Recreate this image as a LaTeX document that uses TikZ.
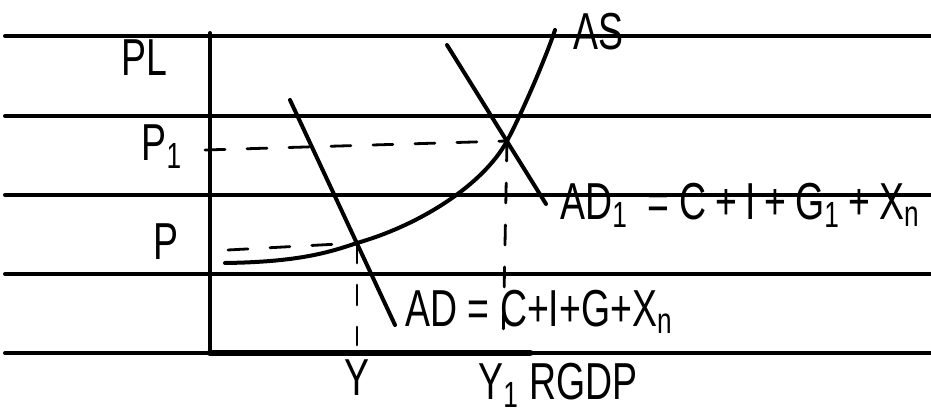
\documentclass[tikz,border=0pt]{standalone}
\usepackage{fontspec}
\setmainfont[FakeStretch=0.72]{Liberation Sans}
\begin{document}
\begin{tikzpicture}[x=0.5pt,y=-0.5pt,line cap=round,line join=round,
  every node/.style={font=\fontsize{26}{26}\selectfont,inner sep=0pt},
  rule/.style={line width=2pt},
  curve/.style={line width=2pt},
  guide/.style={line width=1.4pt,dash pattern=on 10pt off 11pt}]
  % ruled sheet, axes, AS curve and the two AD lines
  \useasboundingbox (0,0) rectangle (931,415);
  \foreach \y in {36,116,195,274,353}
    \draw[rule] (5,\y)--(931,\y);
  \coordinate (O) at (210,353);
  \draw[rule] (210,33)--(O);
  \draw[line width=3.4pt] (O)--(530,353);

  \coordinate (E) at (357,243);
  \coordinate (E1) at (507,141);
  \draw[curve] (225,263) .. controls (300,262) and (330,252) .. (E)
    .. controls (420,225) and (483,185) .. (E1)
    .. controls (521,115) and (545,60) .. (555,30);
  \draw[curve] (290,100)--(395,325);
  \draw[curve] (447,45)--(546,204);

  \draw[guide] (205,150)--(E1);
  \draw[guide] (228,250)--(E);
  \draw[guide] (E)--(357,345);
  \draw[guide] (E1)--(503,348);

  \node (pl) at (144,58) {PL};
  \node (p1) at (162,147) {P\textsubscript{1}};
  \node (p0) at (166,242) {P};
  \node (as) at (598,32) {AS};
  \node[anchor=west] (ad) at (405,312) {AD = C+I+G+X\textsubscript{n}};
  \node[anchor=west] (ad1) at (560,205) {AD\textsubscript{1} \,= C\,+\,I\,+\,G\textsubscript{1}\,+\,X\textsubscript{n}};
  \node (y0) at (357,378) {Y};
  \node (y1) at (558,385) {Y\textsubscript{1} RGDP};
\end{tikzpicture}
\end{document}
